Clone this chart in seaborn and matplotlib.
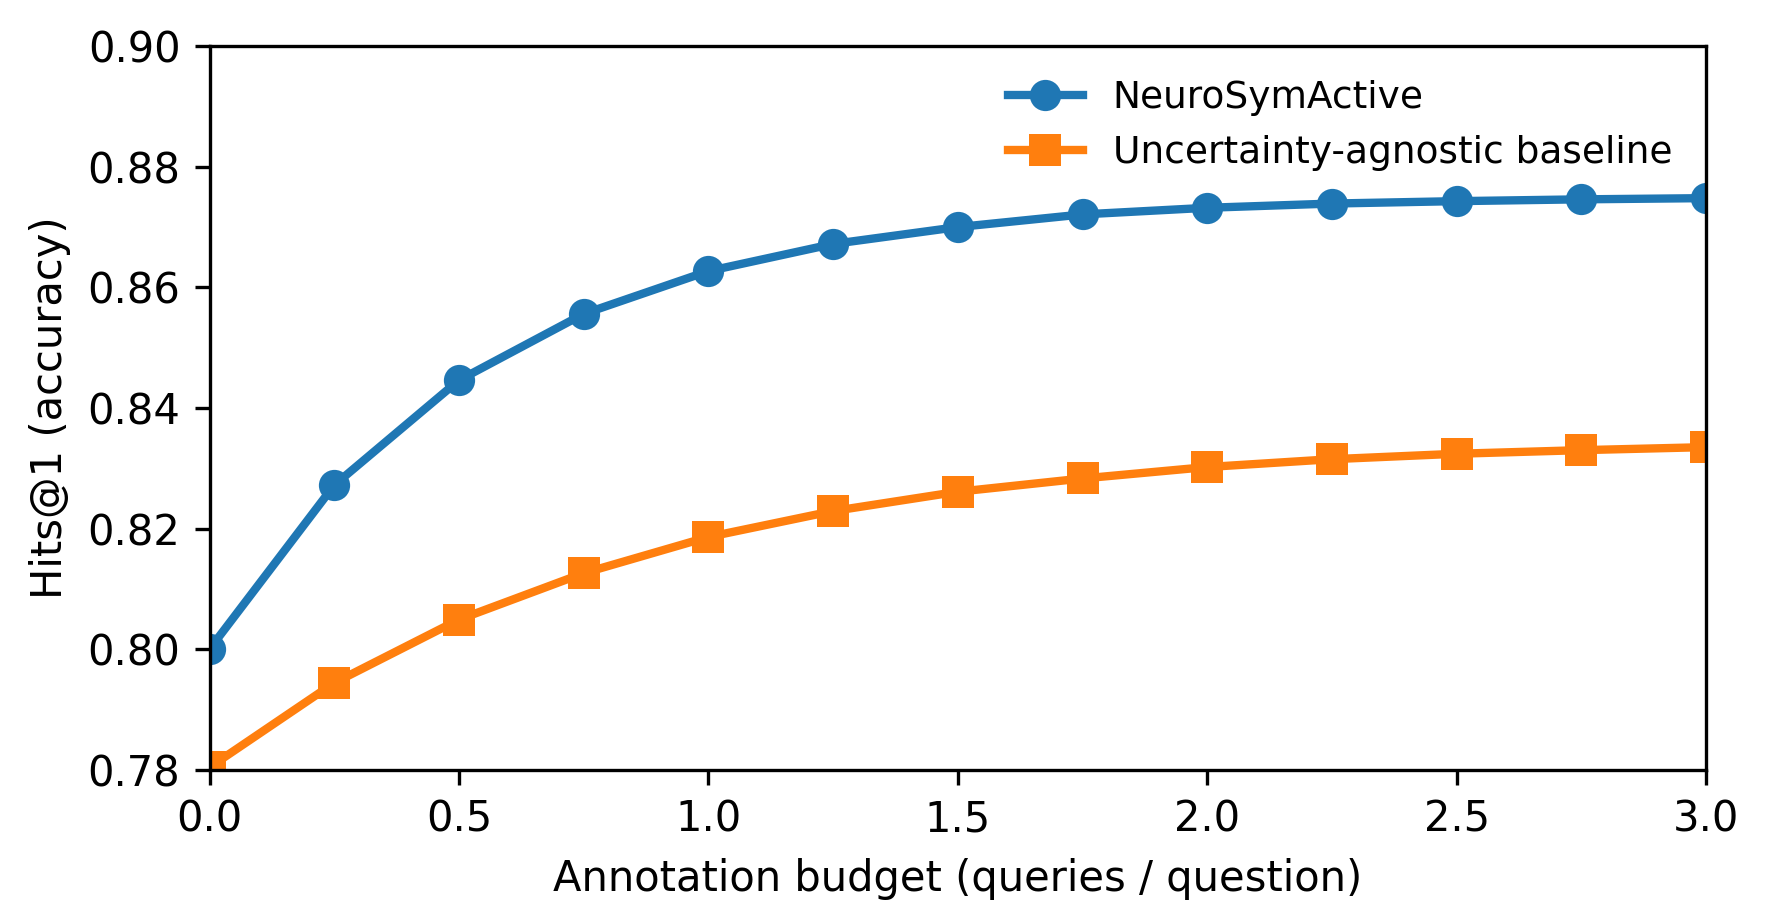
import matplotlib
matplotlib.use('Agg')
import matplotlib.pyplot as plt
import seaborn as sns
import pandas as pd

# Values
budget = [0.0, 0.25, 0.5, 0.75, 1.0, 1.25, 1.5, 1.75, 2.0, 2.25, 2.5, 2.75, 3.0]
neurosym = [0.800, 0.8272, 0.8446, 0.8556, 0.8627, 0.8672, 0.8700, 0.8721,
            0.8732, 0.8739, 0.8743, 0.8746, 0.8748]
baseline = [0.7804, 0.7944, 0.8049, 0.8126, 0.8186, 0.8229, 0.8261, 0.8283,
            0.8302, 0.8315, 0.8324, 0.8330, 0.8335]
series_names = ['NeuroSymActive', 'Uncertainty-agnostic baseline']

df = pd.DataFrame({
    'budget': budget * 2,
    'hits': neurosym + baseline,
    'method': [series_names[0]] * len(budget) + [series_names[1]] * len(budget),
})

plt.rcParams['font.family'] = ['DejaVu Sans']
plt.rcParams['font.size'] = 10

fig, ax = plt.subplots(figsize=(1767 / 300, 924 / 300), dpi=300)
fig.subplots_adjust(left=0.1186, right=0.9655, top=0.950, bottom=0.167)

sns.lineplot(data=df, x='budget', y='hits', hue='method', style='method',
             markers={series_names[0]: 'o', series_names[1]: 's'}, dashes=False,
             palette=['#1f77b4', '#ff7f0e'], linewidth=2.0, markersize=7.5,
             markeredgewidth=0, ax=ax, clip_on=True)

ax.set_xlim(0, 3.0)
ax.set_ylim(0.78, 0.90)
ax.set_xlabel('Annotation budget (queries / question)')
ax.set_ylabel('Hits@1 (accuracy)')
ax.legend(title=None, frameon=False, loc='upper right', fontsize=9)

fig.savefig('out.png', dpi=300)
